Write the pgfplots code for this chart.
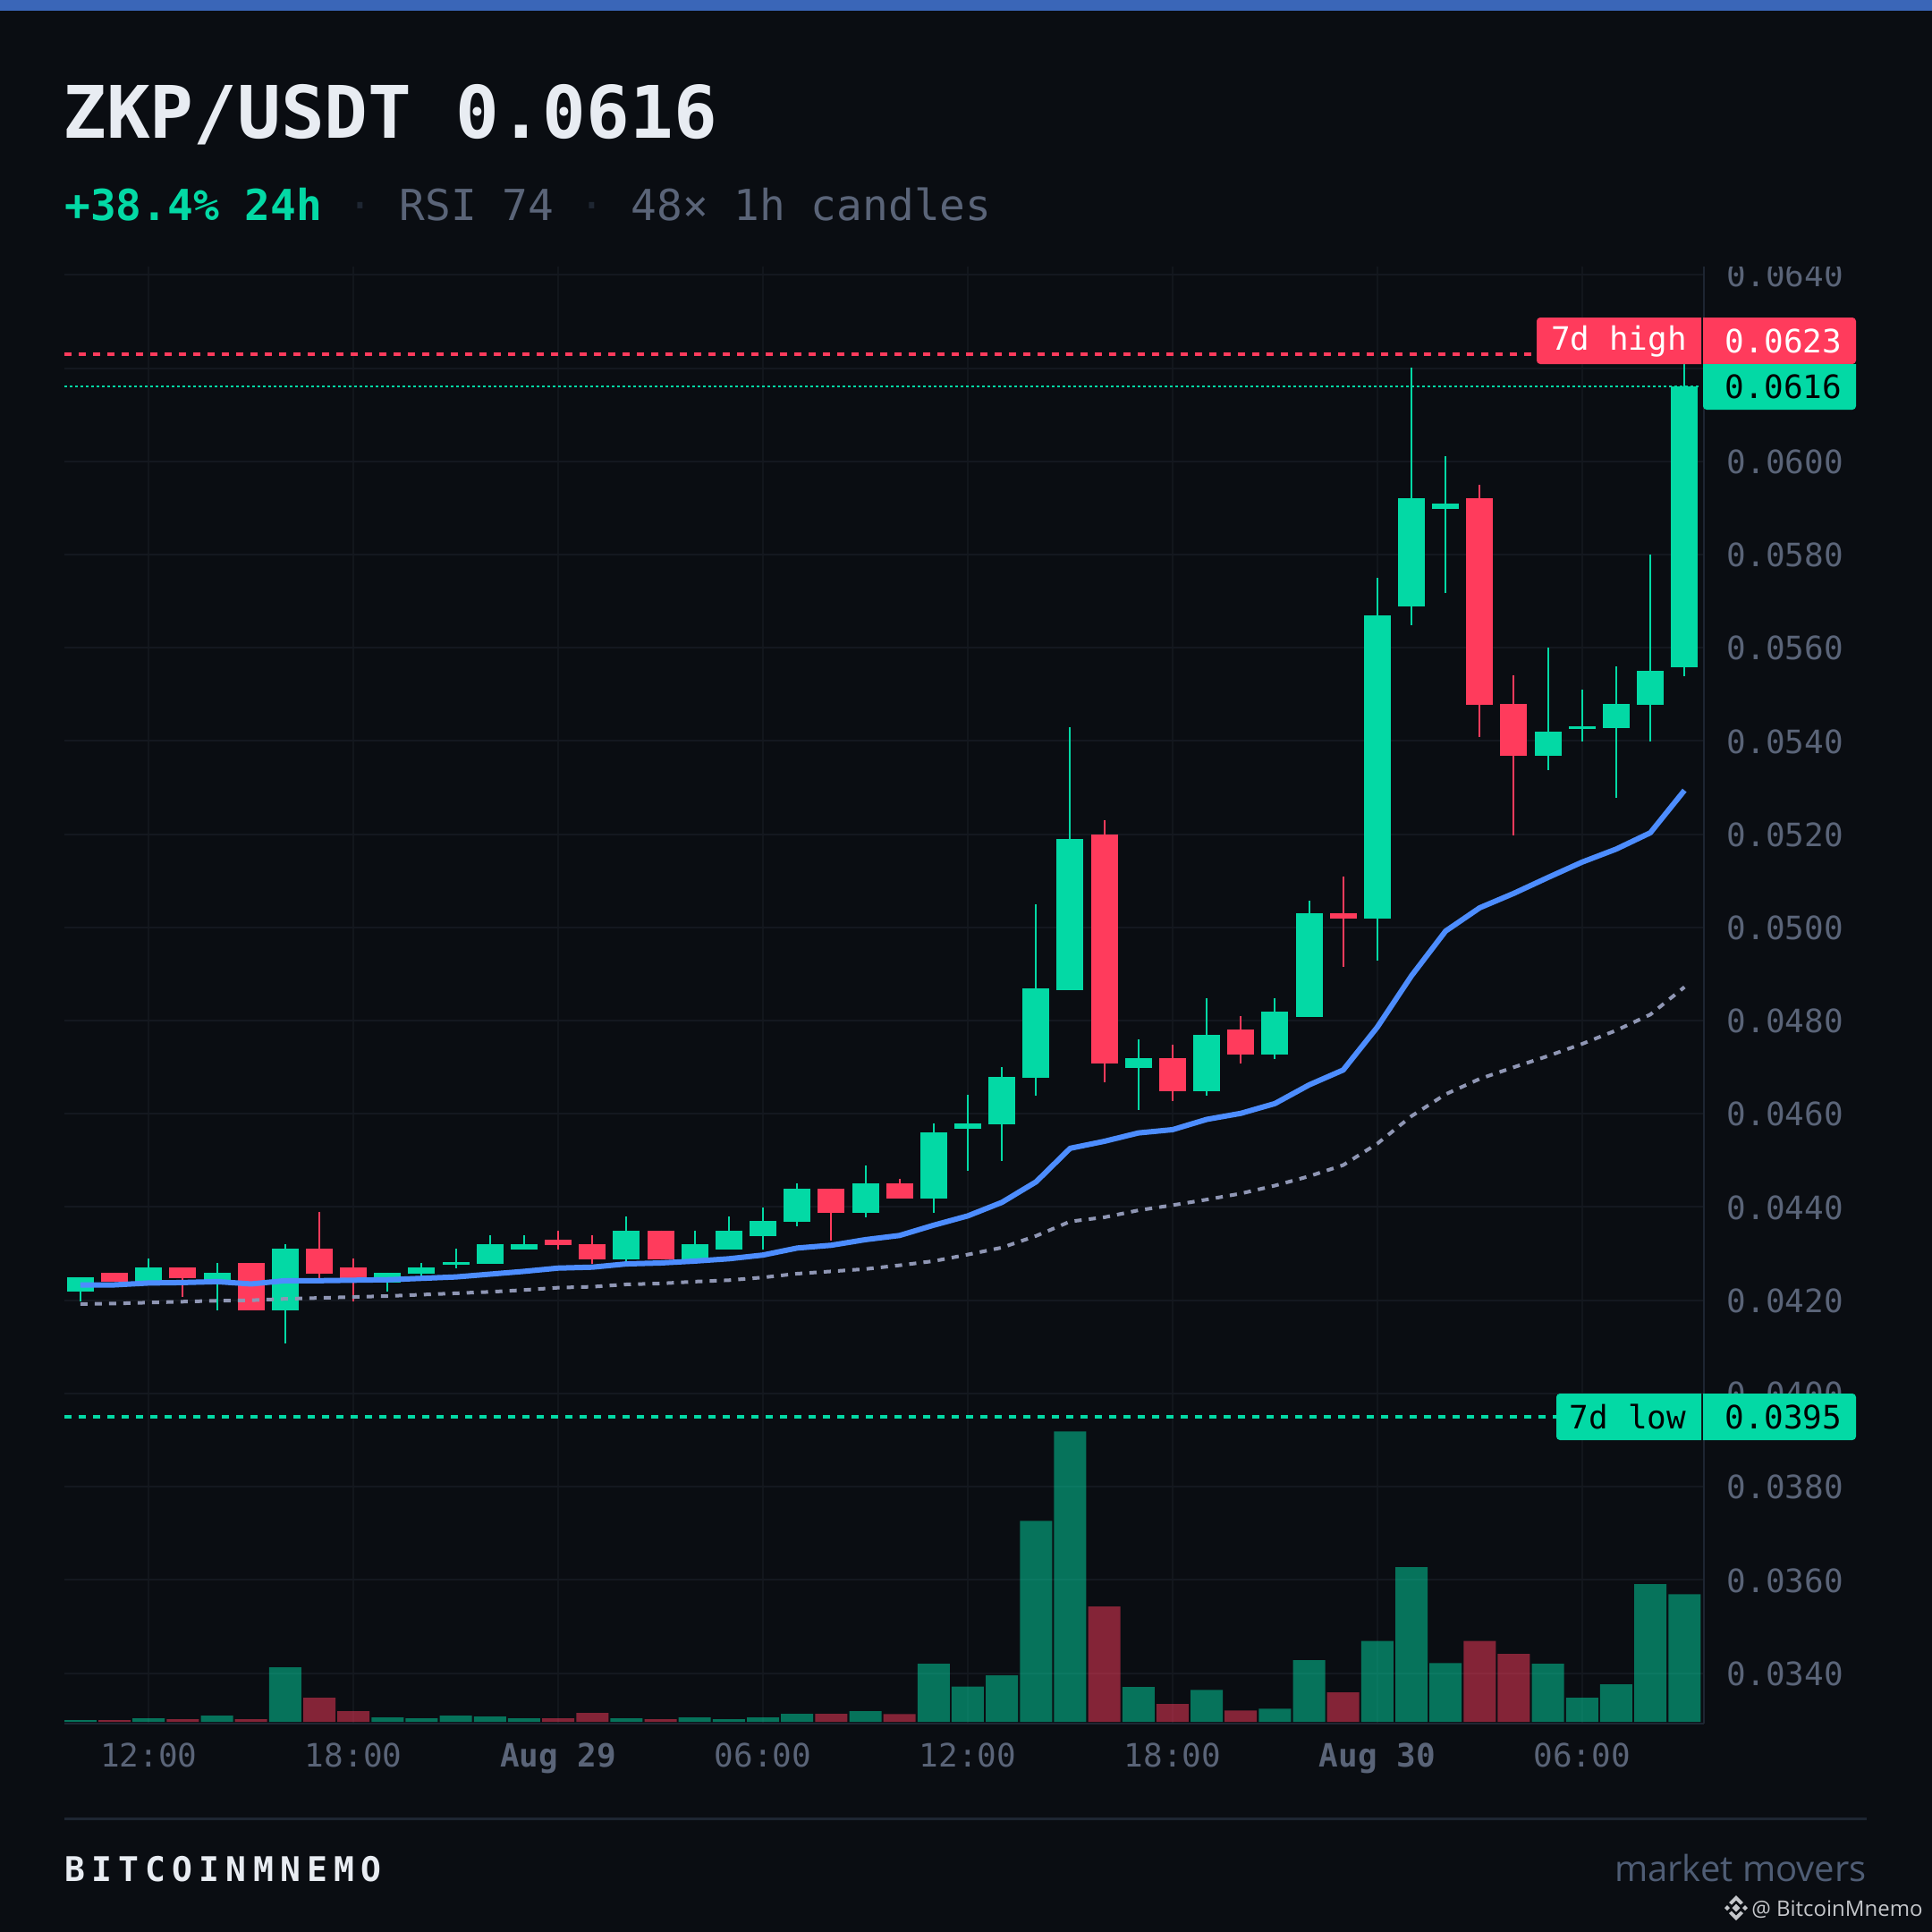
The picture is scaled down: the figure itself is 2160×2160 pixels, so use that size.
\documentclass[border=0pt]{standalone}
\usepackage{pgfplots}
\usepackage{pgfplotstable}
\usepackage{fontspec}
\pgfplotsset{compat=1.18}
\newfontfamily\jb{DejaVu Sans Mono}
\newfontfamily\brandfont[LetterSpace=19]{DejaVu Sans Mono}
\newfontfamily\sansf{Open Sans}
\definecolor{bg}{HTML}{0A0D12}
\definecolor{topbar}{HTML}{3A66B8}
\definecolor{grn}{HTML}{03D9A5}
\definecolor{redc}{HTML}{FF3B5C}
\definecolor{blueline}{HTML}{4D8DFF}
\definecolor{smaline}{HTML}{8F96B4}
\definecolor{gridh}{HTML}{14181F}
\definecolor{gridv}{HTML}{12161C}
\definecolor{axisl}{HTML}{1E2632}
\definecolor{ticktext}{HTML}{5A6478}
\definecolor{dotc}{HTML}{1E2632}
\definecolor{titlec}{HTML}{E8ECF2}
\definecolor{mm}{HTML}{4F5D75}
\definecolor{wm}{HTML}{C4C6CA}

\pgfplotstableread{
i o h l c
0 .04219 .04249 .04197 .04249
2 .04239 .04290 .04239 .04270
4 .04239 .04280 .04178 .04259
6 .04178 .04320 .04107 .04311
9 .04238 .04259 .04219 .04259
10 .04257 .04280 .04251 .04270
11 .04276 .04311 .04269 .04282
12 .04278 .04340 .04278 .04321
13 .04309 .04340 .04309 .04321
16 .04288 .04380 .04282 .04350
18 .04288 .04350 .04288 .04321
19 .04309 .04380 .04309 .04350
20 .04338 .04399 .04309 .04371
21 .04369 .04451 .04359 .04440
23 .04388 .04489 .04378 .04451
25 .04419 .04580 .04388 .04560
26 .04568 .04641 .04478 .04580
27 .04577 .04700 .04499 .04679
28 .04677 .05049 .04638 .04869
29 .04866 .05429 .04866 .05189
31 .04698 .04759 .04608 .04719
33 .04648 .04849 .04638 .04769
35 .04727 .04849 .04717 .04819
36 .04807 .05058 .04807 .05030
38 .05018 .05750 .04928 .05669
39 .05689 .06201 .05649 .05921
40 .05898 .06011 .05717 .05910
43 .05368 .05600 .05337 .05419
44 .05426 .05510 .05399 .05431
45 .05427 .05560 .05278 .05479
46 .05477 .05800 .05399 .05550
47 .05558 .06230 .05538 .06161
}\greencandles
\pgfplotstableread{
i o h l c
1 .04259 .04259 .04240 .04240
3 .04270 .04270 .04207 .04247
5 .04280 .04280 .04178 .04178
7 .04311 .04390 .04239 .04257
8 .04270 .04290 .04197 .04239
14 .04330 .04350 .04309 .04319
15 .04321 .04340 .04279 .04288
17 .04350 .04350 .04288 .04288
22 .04440 .04440 .04328 .04388
24 .04451 .04461 .04419 .04419
30 .05199 .05229 .04667 .04708
32 .04719 .04749 .04627 .04648
34 .04780 .04809 .04708 .04727
37 .05030 .05110 .04916 .05018
41 .05921 .05950 .05408 .05477
42 .05479 .05541 .05197 .05368
}\redcandles
\pgfplotstableread{
i v
0 2
2 4
4 7
6 61
9 5
10 4
11 7
12 6
13 4
16 4
18 5
19 3
20 5
21 9
23 12
25 65
26 39.5
27 51.8
28 224.6
29 324.6
31 38.8
33 35.6
35 14.6
36 68.8
38 90.5
39 172.8
40 65.6
43 64.8
44 26.9
45 41.9
46 153.8
47 142.7
}\greenvol
\pgfplotstableread{
i v
1 2
3 3
5 3
7 27
8 12
14 4
15 10
17 3
22 9
24 8.7
30 128.9
32 19.8
34 12.7
37 32.8
41 90.5
42 75.9
}\redvol
\pgfplotstableread{
i ema sma
0 .04233 .04192
1 .04233 .04193
2 .04237 .04195
3 .04238 .04197
4 .04240 .04199
5 .04235 .04200
6 .04242 .04203
7 .04242 .04205
8 .04243 .04207
9 .04244 .04209
10 .04247 .04212
11 .04250 .04215
12 .04256 .04218
13 .04262 .04222
14 .04269 .04227
15 .04271 .04229
16 .04278 .04234
17 .04280 .04236
18 .04284 .04240
19 .04289 .04243
20 .04297 .04249
21 .04312 .04257
22 .04318 .04262
23 .04330 .04267
24 .04339 .04275
25 .04361 .04284
26 .04381 .04298
27 .04410 .04313
28 .04454 .04338
29 .04526 .04369
30 .04541 .04378
31 .04559 .04393
32 .04566 .04404
33 .04588 .04416
34 .04601 .04429
35 .04622 .04446
36 .04662 .04466
37 .04694 .04490
38 .04786 .04536
39 .04896 .04595
40 .04992 .04642
41 .05042 .04675
42 .05073 .04700
43 .05107 .04724
44 .05140 .04750
45 .05168 .04779
46 .05203 .04813
47 .05294 .04872
}\averages

\pgfplotsset{
  chartbase/.style={
    at={(36pt,-963.5pt)}, anchor=south west,
    scale only axis, width=916.5pt, height=814.5pt,
    xmin=-0.47, xmax=47.57,
  },
  price/.style={chartbase, ymin=0.032917, ymax=0.064178},
  candlewick/.style={draw=none, mark=none,
    error bars/.cd, y dir=minus, y explicit, error mark=none,
    error bar style={line width=1pt, draw=#1}},
  candlebody/.style={draw=none, mark=none,
    error bars/.cd, y dir=minus, y explicit, error mark=none,
    error bar style={line width=15pt, draw=#1}},
}

\begin{document}
\begin{tikzpicture}[x=.5pt,y=-.5pt]
\useasboundingbox (0,0) rectangle (2160,2160);
\fill[bg] (0,0) rectangle (2160,2160);
\fill[topbar] (0,0) rectangle (2160,12);

\node[anchor=base west,inner sep=0pt,text=titlec] at (70,154)
  {\jb\bfseries\fontsize{40.5}{48}\selectfont ZKP/USDT 0.0616};
\node[anchor=base west,inner sep=0pt] at (72,246)
  {\jb\fontsize{23.9}{30}\selectfont\textcolor{grn}{\bfseries +38.4\% 24h} \textcolor{dotc}{·} \textcolor{ticktext}{RSI 74} \textcolor{dotc}{·} \textcolor{ticktext}{48× 1h candles}};

% price axis: grid, ticks, reference levels
\begin{axis}[price,
  axis x line*=bottom, axis y line*=right,
  axis line style={-, color=axisl, line width=1.2pt},
  major tick length=0pt,
  grid=major,
  x grid style={gridv, line width=.75pt},
  y grid style={gridh, line width=1pt},
  xtick={2,8,14,20,26,32,38,44},
  xticklabels={12:00,18:00,{\bfseries Aug 29},06:00,12:00,18:00,{\bfseries Aug 30},06:00},
  ytick={0.034,0.036,0.038,0.040,0.042,0.044,0.046,0.048,0.050,0.052,0.054,0.056,0.058,0.060,0.062,0.064},
  yticklabel pos=right,
  /pgf/number format/assume math mode=true,
  /pgf/number format/fixed,
  /pgf/number format/fixed zerofill,
  /pgf/number format/precision=4,
  scaled y ticks=false,
  tick label style={font=\jb\fontsize{18}{22}\selectfont, text=ticktext, inner sep=0pt},
  yticklabel style={anchor=west, xshift=12.7pt, yshift=-.3pt},
  xticklabel style={anchor=base, yshift=-24pt},
]
\addplot[redc, line width=2pt, dash pattern=on 4pt off 4pt] coordinates {(-0.47,0.0623)(42.66,0.0623)};
\addplot[grn, line width=2pt, dash pattern=on 4pt off 4pt] coordinates {(-0.47,0.0395)(43.26,0.0395)};
\addplot[grn, line width=.9pt, dash pattern=on 1.5pt off 1.5pt] coordinates {(-0.47,0.0616)(47.42,0.0616)};
\end{axis}

% volume
\begin{axis}[chartbase, hide axis, ymin=-2, ymax=1627, ybar, bar width=18pt, bar shift=0pt]
\addplot[fill=grn, fill opacity=.5, draw=none] table[x=i,y=v] {\greenvol};
\addplot[fill=redc, fill opacity=.5, draw=none] table[x=i,y=v] {\redvol};
\end{axis}

% candles and averages
\begin{axis}[price, hide axis]
\addplot[candlewick=grn] table[x=i,y=h,y error minus expr=\thisrow{h}-\thisrow{l}] {\greencandles};
\addplot[candlebody=grn] table[x=i,y=c,y error minus expr=\thisrow{c}-\thisrow{o}] {\greencandles};
\addplot[candlewick=redc] table[x=i,y=h,y error minus expr=\thisrow{h}-\thisrow{l}] {\redcandles};
\addplot[candlebody=redc] table[x=i,y=o,y error minus expr=\thisrow{o}-\thisrow{c}] {\redcandles};
\addplot[smaline, line width=2pt, dash pattern=on 4pt off 4pt] table[x=i,y=sma] {\averages};
\addplot[blueline, line width=3pt, line join=round] table[x=i,y=ema] {\averages};
\end{axis}

% cut of the top tick label
\fill[bg] (1907,262) rectangle (2160,298);

% level labels
\fill[redc] (1902,355) -- (1902,407) [rounded corners=2pt] -- (1718,407) -- (1718,355) [sharp corners] -- cycle;
\fill[redc] (1904,407) [rounded corners=2pt] -- (2075,407) -- (2075,355) [sharp corners] -- (1904,355) -- cycle;
\fill[grn] (1904,407) -- (2075,407) [rounded corners=2pt] -- (2075,458) -- (1904,458) [sharp corners] -- cycle;
\fill[grn] (1902,1558) -- (1902,1610) [rounded corners=2pt] -- (1740,1610) -- (1740,1558) [sharp corners] -- cycle;
\fill[grn] (1904,1610) [rounded corners=2pt] -- (2075,1610) -- (2075,1558) [sharp corners] -- (1904,1558) -- cycle;
\tikzset{lab/.style={anchor=base,inner sep=0pt,font=\jb\fontsize{18}{22}\selectfont}}
\node[lab,text=white] at (1810,391) {7d high};
\node[lab,text=white] at (1994,394) {0.0623};
\node[lab,text=black] at (1994,445) {0.0616};
\node[lab,text=black] at (1820,1597) {7d low};
\node[lab,text=black] at (1994,1597) {0.0395};

% footer
\fill[axisl] (72,2032) rectangle (2087,2035);
\node[anchor=base west,inner sep=0pt,text=titlec] at (72,2103)
  {\brandfont\bfseries\fontsize{19}{22}\selectfont BITCOINMNEMO};
\node[anchor=base east,inner sep=0pt,text=mm] at (2087,2103)
  {\sansf\fontsize{20}{24}\selectfont market movers};
\node[anchor=base east,inner sep=0pt,text=wm] at (2150,2142)
  {\sansf\fontsize{12}{16}\selectfont @ BitcoinMnemo};
% logo
\begin{scope}[shift={(1941,2133)}]
\fill[wm] (0,-4.5) -- (4.5,0) -- (0,4.5) -- (-4.5,0) -- cycle;
\fill[wm] (-13,0) -- (-10,-3) -- (-7,0) -- (-10,3) -- cycle;
\fill[wm] (13,0) -- (10,-3) -- (7,0) -- (10,3) -- cycle;
\fill[wm] (0,-14) -- (8,-6) -- (5,-3.5) -- (0,-8.5) -- (-5,-3.5) -- (-8,-6) -- cycle;
\fill[wm] (0,14) -- (8,6) -- (5,3.5) -- (0,8.5) -- (-5,3.5) -- (-8,6) -- cycle;
\end{scope}
\end{tikzpicture}
\end{document}
